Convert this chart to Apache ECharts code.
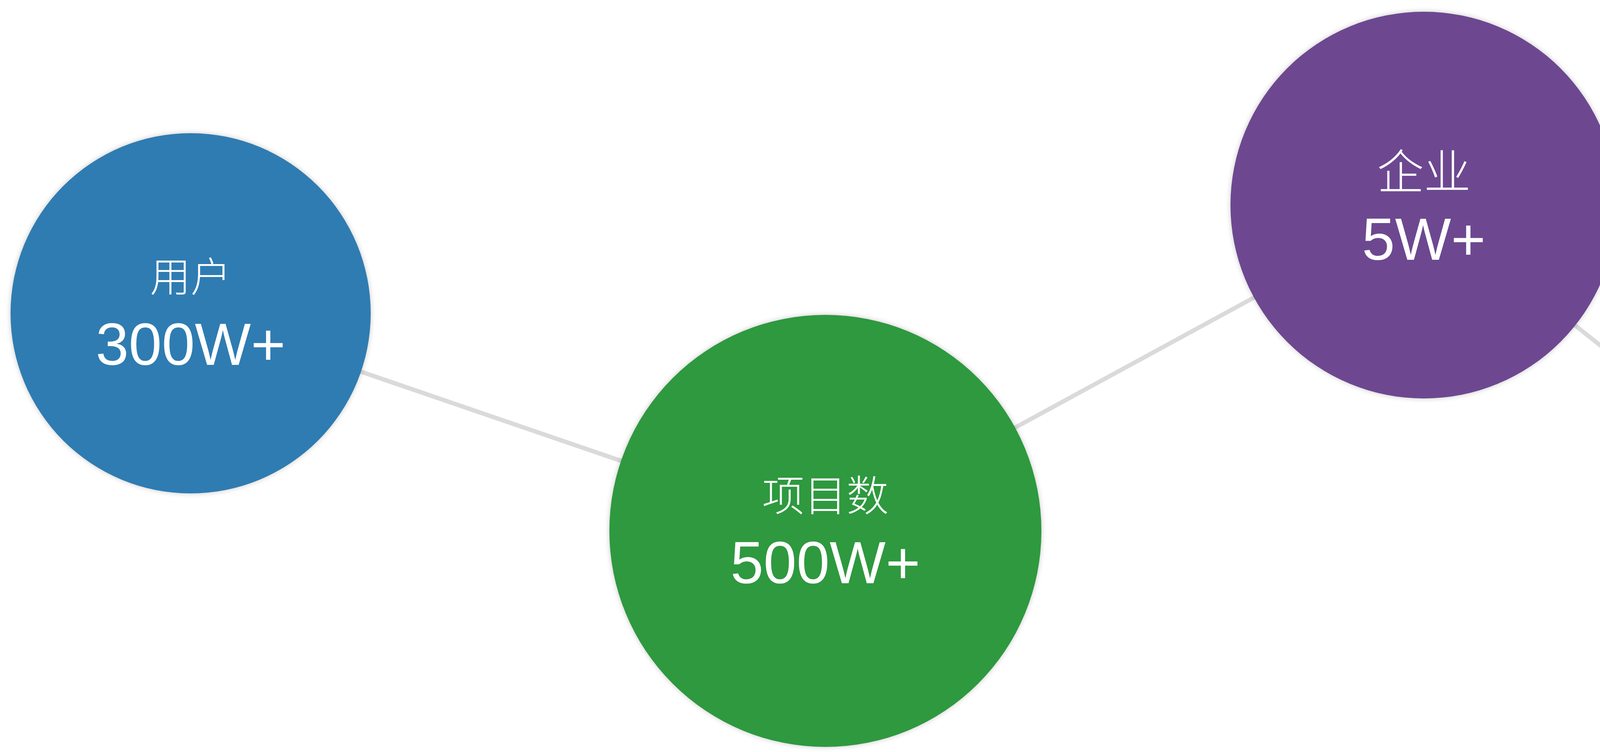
<!DOCTYPE html>
<html>
<head>
<meta charset="utf-8">
<script src="https://cdn.jsdelivr.net/npm/echarts@6/dist/echarts.min.js"></script>
<style>
  html, body { margin: 0; padding: 0; background: #ffffff; }
  #chart { width: 5278px; height: 1925px; }
</style>
</head>
<body>
<div id="chart"></div>
<script>
// ---- data ----
var names  = ['用户', '项目数', '企业', '高校'];
var values = ['300W+', '500W+', '5W+', '500+'];
var xs     = [488, 2113, 3645, 4899];
var ys     = [802, 1359, 525, 1522];
var sizes  = [922, 1106, 990, 804];

// ---- styles ----
var colors      = ['#2f7cb2', '#2e993f', '#6d4890', '#b0432f'];
var nameFonts   = [104, 108, 120, 96];
var valueFonts  = [152, 152, 152, 138];
var labelShift  = [-2, 0, 6, 14];

var chart = echarts.init(document.getElementById('chart'), null, { renderer: 'canvas' });

var points = names.map(function (n, i) {
  return {
    name: n,
    value: [xs[i], ys[i]],
    symbolSize: sizes[i],
    itemStyle: { color: colors[i], opacity: 1 },
    label: {
      offset: [0, labelShift[i]],
      formatter: '{a|' + n + '}\n{b|' + values[i] + '}',
      rich: {
        a: { fontFamily: 'Noto Sans CJK SC', fontWeight: 300, fontSize: nameFonts[i], color: '#ffffff', lineHeight: 185 },
        b: { fontFamily: 'Liberation Sans', fontSize: valueFonts[i], color: '#ffffff', lineHeight: 185 }
      }
    }
  };
});

var option = {
  backgroundColor: '#ffffff',
  animation: false,
  grid: { left: 0, right: 0, top: 0, bottom: 0 },
  xAxis: { type: 'value', min: 0, max: 5278, show: false },
  yAxis: { type: 'value', min: 0, max: 1925, inverse: true, show: false },
  series: [
    {
      type: 'line',
      data: xs.map(function (x, i) { return [x, ys[i]]; }),
      symbol: 'none',
      lineStyle: { color: '#dadada', width: 11, opacity: 1 },
      z: 1,
      silent: true
    },
    {
      type: 'scatter',
      data: points,
      symbol: 'circle',
      clip: false,
      z: 2,
      emphasis: { disabled: true },
      itemStyle: {
        opacity: 1,
        shadowBlur: 14,
        shadowColor: 'rgba(0,0,0,0.22)'
      },
      label: {
        show: true,
        position: 'inside',
        align: 'center',
        verticalAlign: 'middle',
        opacity: 1
      }
    }
  ]
};
chart.setOption(option);
</script>
</body>
</html>
